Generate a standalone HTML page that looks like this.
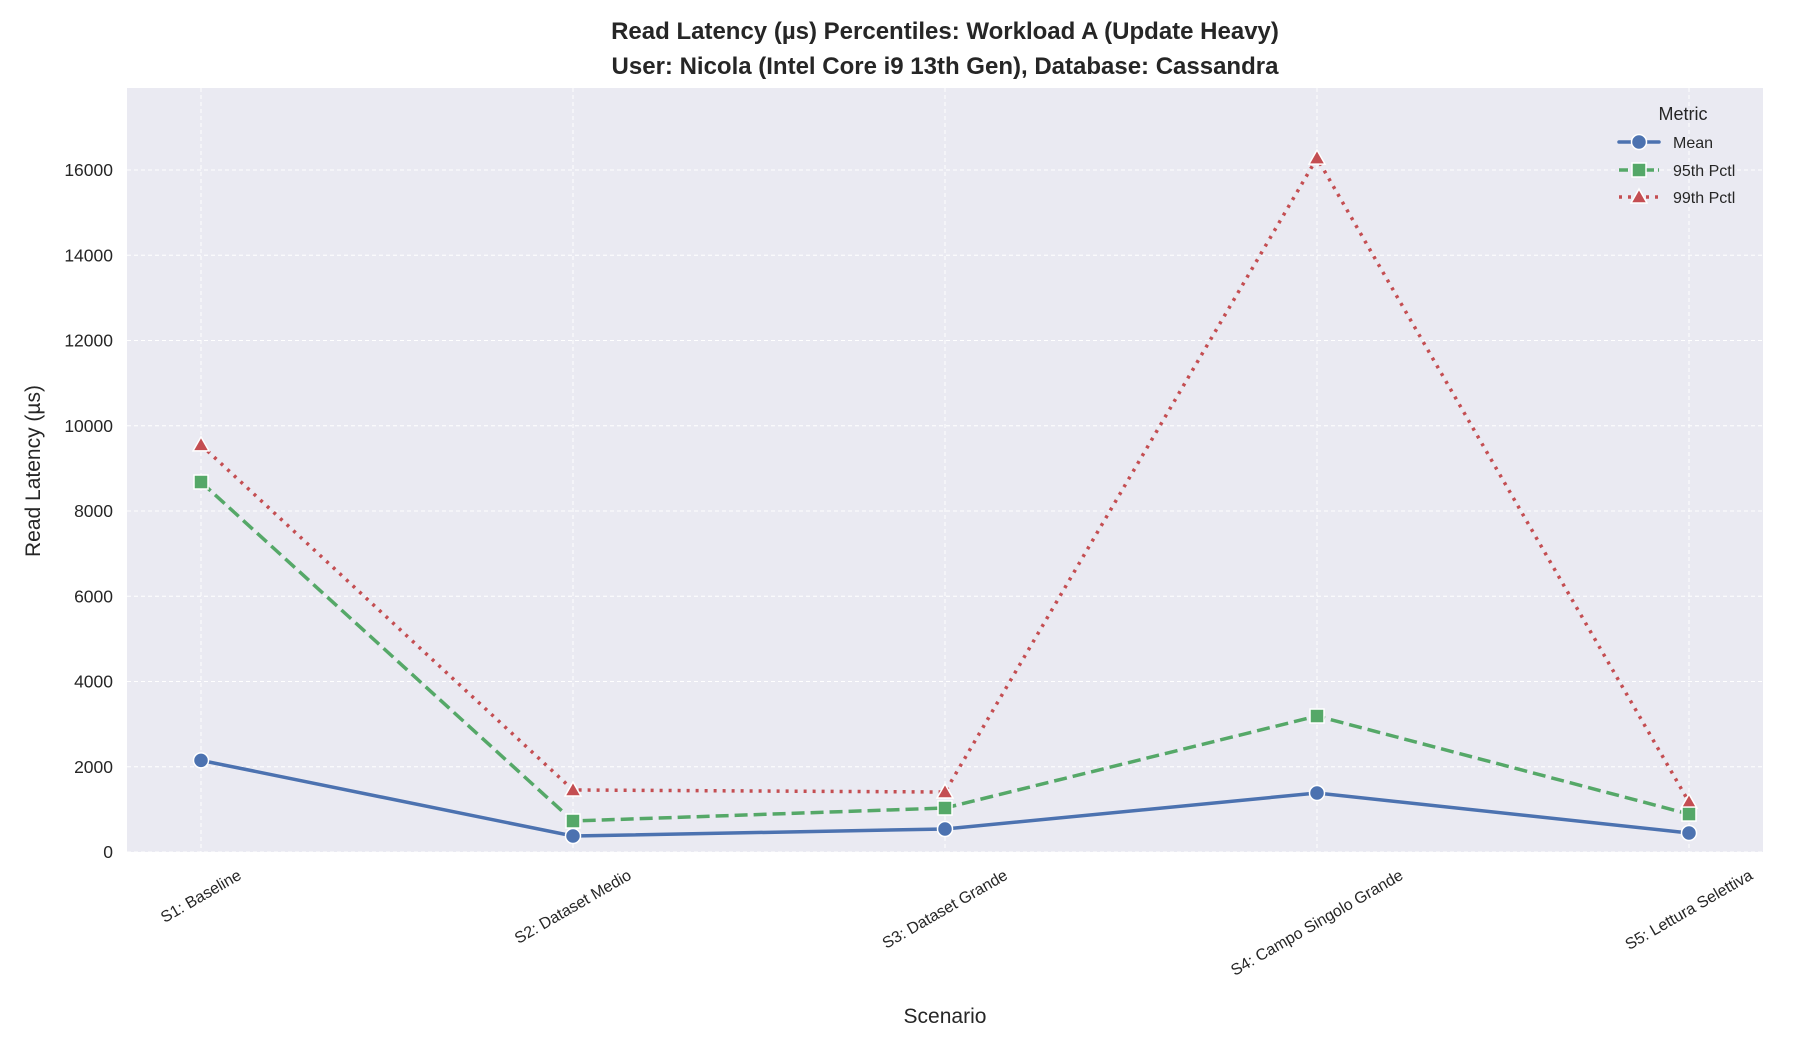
<!DOCTYPE html>
<html><head><meta charset="utf-8"><style>
html,body{margin:0;padding:0;background:#fff}
svg text{font-family:"Liberation Sans",Arial,sans-serif;fill:#262626}
</style></head><body>
<svg id="chart" width="1800" height="1050" xmlns="http://www.w3.org/2000/svg">
<rect x="0" y="0" width="1800" height="1050" fill="#fff"/>
<rect x="127" y="88" width="1636" height="764" fill="#eaeaf2"/>
<g id="grid"></g>
<g id="yticks"></g>
<g id="xticks"></g>
<g id="series"></g>
<text x="945" y="39" text-anchor="middle" font-size="24" font-weight="bold">Read Latency (µs) Percentiles: Workload A (Update Heavy)</text>
<text x="945" y="74" text-anchor="middle" font-size="24" font-weight="bold">User: Nicola (Intel Core i9 13th Gen), Database: Cassandra</text>
<text transform="translate(40,471) rotate(-90)" text-anchor="middle" font-size="21">Read Latency (µs)</text>
<text x="945" y="1023" text-anchor="middle" font-size="21">Scenario</text>
<g id="legend">
<text x="1683" y="120" text-anchor="middle" font-size="18">Metric</text>
</g>
</svg>
<script>
const categories = ["S1: Baseline","S2: Dataset Medio","S3: Dataset Grande","S4: Campo Singolo Grande","S5: Lettura Selettiva"];
const meanValues = [2150, 375, 540, 1384, 446];
const p95Values = [8680, 727, 1032, 3190, 890];
const p99Values = [9550, 1455, 1407, 16280, 1170];
const yTicks = [0, 2000, 4000, 6000, 8000, 10000, 12000, 14000, 16000];
const seriesNames = ["Mean","95th Pctl","99th Pctl"];

const NS = "http://www.w3.org/2000/svg";
const X0 = 201, XSTEP = 372, Y0 = 852, YSCALE = 85.25/2000;
function xPos(i){ return X0 + i*XSTEP; }
function yPos(v){ return Y0 - v*YSCALE; }
function mk(tag, attrs, parent){ const e=document.createElementNS(NS,tag); for(const k in attrs) e.setAttribute(k,attrs[k]); parent.appendChild(e); return e; }

const grid=document.getElementById('grid');
const yt=document.getElementById('yticks');
yTicks.forEach(v=>{
  const l=mk('line',{x1:127,x2:1763,y1:yPos(v),y2:yPos(v),stroke:'#fff','stroke-width':1,'stroke-dasharray':'4,3'},grid);
  
  
  const t=mk('text',{x:113,y:yPos(v)+6,'text-anchor':'end','font-size':17.5},yt);
  t.textContent=v;
  
  
});
const xt=document.getElementById('xticks');
categories.forEach((c,i)=>{
  const l=mk('line',{x1:xPos(i),x2:xPos(i),y1:88,y2:852,stroke:'#fff','stroke-width':1,'stroke-dasharray':'4,3'},grid);
  
  
  const t=mk('text',{x:0,y:0,'text-anchor':'middle','font-size':16},xt);
  t.textContent=c;
  
  
  const w=t.getComputedTextLength();
  const cy=867+(w*0.5+16*0.866)/2;
  t.setAttribute('transform',`translate(${xPos(i)},${cy}) rotate(-30) translate(0,5)`);
});

const colors=['#4c72b0','#55a868','#c44e52'];
const dashes=['none','13,6','3,6'];
const caps=['round','butt','butt'];
const data=[meanValues,p95Values,p99Values];
const sg=document.getElementById('series');
function marker(kind,x,y,color,parent){
  let m;
  if(kind===0) m=mk('circle',{cx:x,cy:y,r:7.5,fill:color,stroke:'#fff','stroke-width':1.5},parent);
  else if(kind===1) m=mk('rect',{x:x-7,y:y-7,width:14,height:14,fill:color,stroke:'#fff','stroke-width':1.5},parent);
  else m=mk('polygon',{points:`${x},${y-8} ${x+8},${y+6} ${x-8},${y+6}`,fill:color,stroke:'#fff','stroke-width':1.5},parent);
  return m;
}
[2,1,0].forEach(s=>{
  const g=mk('g',{},sg);
  
  
  const pts=data[s].map((v,i)=>xPos(i)+','+yPos(v)).join(' ');
  const pl=mk('polyline',{points:pts,fill:'none',stroke:colors[s],'stroke-width':3.5,'stroke-dasharray':dashes[s],'stroke-linecap':caps[s]},g);
  
  
  data[s].forEach((v,i)=>{
    const m=marker(s,xPos(i),yPos(v),colors[s],g);
    
    
  });
});

const lg=document.getElementById('legend');
const ly=[142,170,197];
seriesNames.forEach((n,s)=>{
  const g=mk('g',{},lg);
  
  
  mk('line',{x1:1619,x2:1659,y1:ly[s],y2:ly[s],stroke:colors[s],'stroke-width':3.5,'stroke-dasharray':s===0?'none':(s===1?'9,4':'3,6'),'stroke-linecap':caps[s]},g);
  marker(s,1639,ly[s],colors[s],g);
  const t=mk('text',{x:1673,y:ly[s]+6,'font-size':16},g);
  t.textContent=n;
});
</script>
</body></html>
